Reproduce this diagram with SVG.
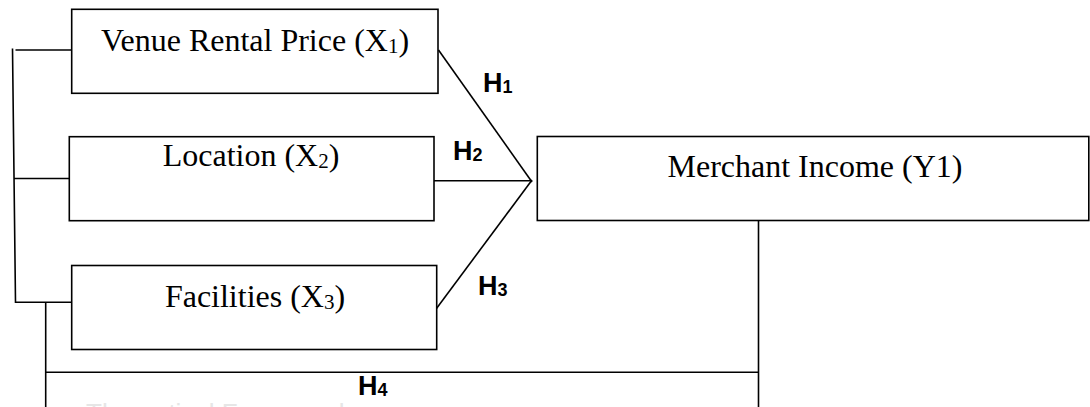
<svg xmlns="http://www.w3.org/2000/svg" width="1090" height="407" viewBox="0 0 1090 407">
  <style>
    .box { fill: #ffffff; stroke: #000000; stroke-width: 1.6; }
    .wire { fill: none; stroke: #000000; stroke-width: 1.6; }
    .lbl { font-family: "Liberation Serif", "Times New Roman", serif; font-size: 32px; fill: #000000; text-anchor: middle; }
    .sub { font-size: 21px; }
    .hyp { font-family: "Liberation Sans", Arial, sans-serif; font-size: 27px; font-weight: bold; fill: #000000; }
    .hsub { font-size: 18px; }
    .caption { font-family: "Liberation Sans", Arial, sans-serif; font-size: 26px; fill: #e6e6e6; }
  </style>
  <rect width="1090" height="407" fill="#ffffff"/>

  <!-- connectors: bracket joining the predictors, paths to the outcome, and the joint path -->
  <g id="connectors">
    <polyline class="wire" points="15.5,50 71.7,50"/>
    <polyline class="wire" points="12.5,48.5 15.5,302.3 71.7,302.3"/>
    <polyline class="wire" points="14,178.5 69.3,178.5"/>
    <polyline class="wire" points="45.7,302.3 45.7,407"/>
    <polyline class="wire" points="45.7,372.3 758.5,372.3"/>
    <polyline class="wire" points="758.5,220.7 758.5,407"/>
    <line class="wire" x1="438.5" y1="50" x2="532" y2="182"/>
    <line class="wire" x1="434" y1="180.7" x2="532" y2="180.7"/>
    <line class="wire" x1="435" y1="310.5" x2="532" y2="180"/>
  </g>

  <g id="node-x1">
    <rect class="box" x="71.7" y="9.3" width="366.3" height="84"/>
    <text class="lbl" x="255" y="50.7">Venue Rental Price (X<tspan class="sub" dy="2">1</tspan><tspan dy="-2">)</tspan></text>
  </g>

  <g id="node-x2">
    <rect class="box" x="69.3" y="136.7" width="364.7" height="84"/>
    <text class="lbl" x="251" y="166">Location (X<tspan class="sub" dy="2">2</tspan><tspan dy="-2">)</tspan></text>
  </g>

  <g id="node-x3">
    <rect class="box" x="71.7" y="265.5" width="365" height="84"/>
    <text class="lbl" x="255" y="306.7">Facilities (X<tspan class="sub" dy="2">3</tspan><tspan dy="-2">)</tspan></text>
  </g>

  <g id="node-y1">
    <rect class="box" x="537.3" y="136.5" width="551.5" height="84"/>
    <text class="lbl" x="815" y="176.7">Merchant Income (Y1)</text>
  </g>

  <!-- hypothesis labels -->
  <g id="hypotheses">
    <text class="hyp" x="483" y="92.3">H<tspan class="hsub" dy="1">1</tspan></text>
    <text class="hyp" x="453" y="160">H<tspan class="hsub" dy="1">2</tspan></text>
    <text class="hyp" x="478" y="295">H<tspan class="hsub" dy="1">3</tspan></text>
    <text class="hyp" x="358" y="395">H<tspan class="hsub" dy="1">4</tspan></text>
  </g>

  <!-- caption running off the lower edge -->
  <text class="caption" x="86" y="422">Theoretical Framework</text>
</svg>
